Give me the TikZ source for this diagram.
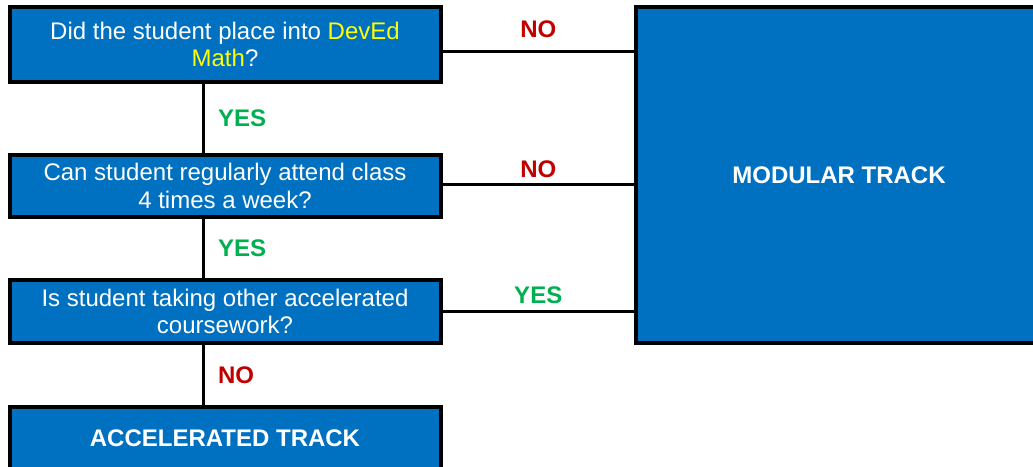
\documentclass[tikz,border=0pt]{standalone}
\usepackage{fontspec}
\setmainfont{Liberation Sans}
\usepackage{xcolor}
\usepackage{tikz}
\usetikzlibrary{positioning}

\definecolor{boxblue}{HTML}{0070C0}
\definecolor{yesgreen}{HTML}{00B050}
\definecolor{nored}{HTML}{C00000}
\definecolor{devyellow}{HTML}{FFFF00}

\begin{document}
\begin{tikzpicture}[x=1pt,y=-1pt]
    \tikzstyle{every node}=[font=\fontsize{24}{27.6}\selectfont,inner sep=0pt,outer sep=0pt]
    \tikzstyle{qbox}=[draw=black,line width=4pt,fill=boxblue,text=white,minimum width=431pt,align=center]
    \tikzstyle{link}=[draw=black,line width=3pt]
    \tikzstyle{yes}=[text=yesgreen,font=\fontsize{24}{27.6}\selectfont\bfseries]
    \tikzstyle{no}=[text=nored,font=\fontsize{24}{27.6}\selectfont\bfseries]

    \clip (0,0) rectangle (1033,466) ;

    \node[qbox,minimum height=75pt] (place) at (225,44.5) {Did the student place into \textcolor{devyellow}{DevEd}\\\textcolor{devyellow}{Math}?} ;
    \node[qbox,minimum height=62pt,below=73pt of place] (attend) {Can student regularly attend class\\4 times a week?} ;
    \node[qbox,minimum height=63pt,below=63pt of attend] (other) {Is student taking other accelerated\\coursework?} ;
    \node[qbox,minimum height=63pt,below=64pt of other,font=\fontsize{24}{27.6}\selectfont\bfseries] (accel) {ACCELERATED TRACK} ;

    \node[qbox,minimum width=406pt,minimum height=336pt,font=\fontsize{24}{27.6}\selectfont\bfseries] (modular) at (839,175) {MODULAR TRACK} ;

    % down the left column
    \draw[link] ([xshift=-21.5pt]place.south) -- ([xshift=-21.5pt]attend.north)
        node[yes,midway,right=14.5pt] {YES} ;
    \draw[link] ([xshift=-21.5pt]attend.south) -- ([xshift=-21.5pt]other.north)
        node[yes,midway,right=14.5pt] {YES} ;
    \draw[link] ([xshift=-21.5pt]other.south) -- ([xshift=-21.5pt]accel.north)
        node[no,midway,right=14.5pt] {NO} ;

    % over to the modular track
    \draw[link] ([yshift=-7pt]place.east) -- ([yshift=-7pt]place.east -| modular.west)
        node[no,midway,above=13.5pt] {NO} ;
    \draw[link] ([yshift=1.5pt]attend.east) -- ([yshift=1.5pt]attend.east -| modular.west)
        node[no,midway,above=6.5pt] {NO} ;
    \draw[link] (other.east) -- (other.east -| modular.west)
        node[yes,midway,above=7.5pt] {YES} ;

\end{tikzpicture}
\end{document}
